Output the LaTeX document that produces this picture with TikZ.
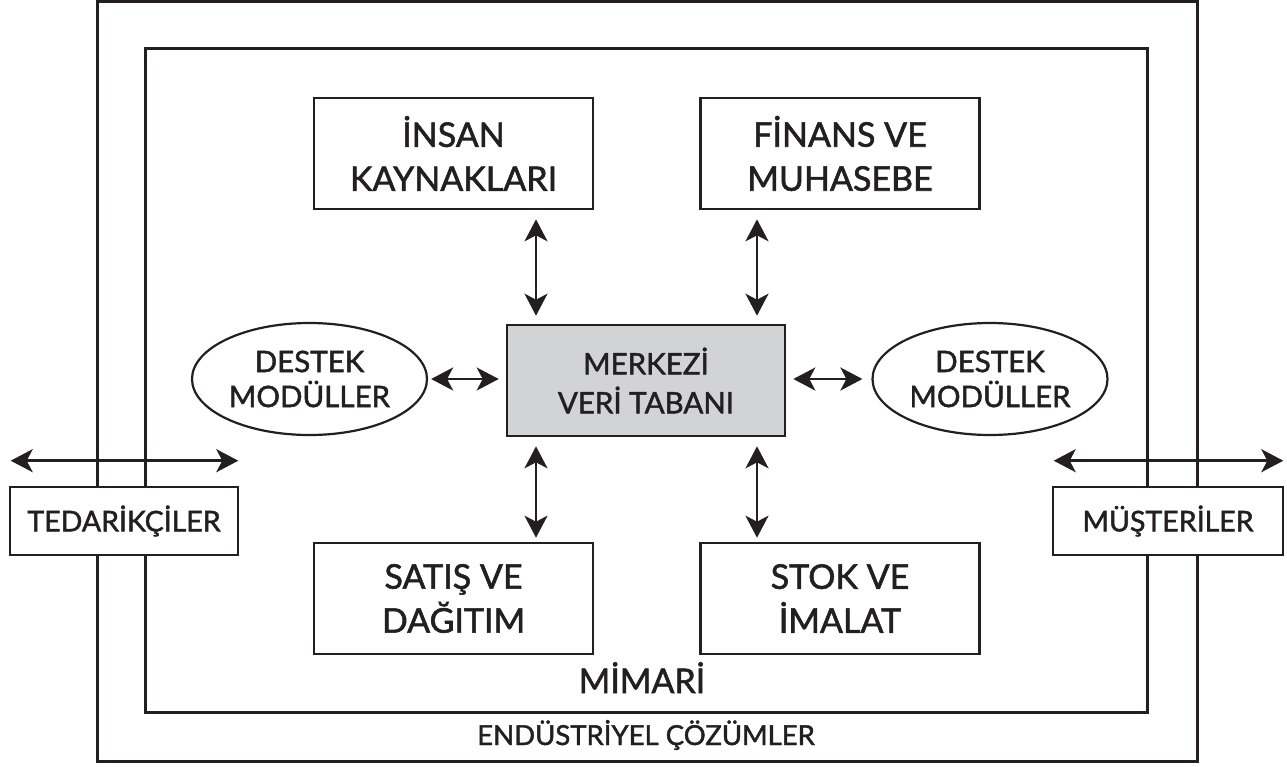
\documentclass[tikz,border=0pt]{standalone}
\usepackage{fontspec}
\setmainfont{Lato}[RawFeature={embolden=1.6}]
\usetikzlibrary{arrows.meta,shapes.geometric}
\definecolor{ink}{HTML}{231F20}
\definecolor{dbfill}{HTML}{D1D3D4}

\begin{document}
\begin{tikzpicture}[x=1pt,y=-1pt,
  frame/.style={draw=ink,line width=3pt},
  modbox/.style={draw=ink,line width=2.6pt,fill=white,inner sep=0pt,
    minimum width=279pt,minimum height=111pt,align=center,text=ink,
    font=\fontsize{34}{44}\selectfont},
  dbbox/.style={draw=ink,line width=2.6pt,fill=dbfill,inner sep=0pt,
    minimum width=278pt,minimum height=111pt,align=center,text=ink,
    font=\fontsize{29.5}{39}\selectfont},
  support/.style={ellipse,draw=ink,line width=2.2pt,fill=white,inner sep=0pt,
    minimum width=235pt,minimum height=112pt,align=center,text=ink,
    font=\fontsize{29.5}{35}\selectfont},
  partner/.style={draw=ink,line width=2.6pt,fill=white,inner sep=0pt,
    minimum height=68pt,align=center,text=ink,
    font=\fontsize{28.5}{34}\selectfont},
  tip/.tip={Stealth[length=22pt,width=23pt,inset=6pt]},
  dbl/.style={draw=ink,line width=2.6pt,tip-tip},
]
\useasboundingbox (0,0) rectangle (1287,766);

% company frame and architecture frame
\draw[frame] (97,1) rectangle (1197,761);
\draw[frame] (145,48) rectangle (1147,712);
\node[anchor=base,text=ink,font=\fontsize{34}{40}\selectfont] (arch) at (642,693) {MİMARİ};
\node[anchor=base,text=ink,font=\fontsize{27.5}{30}\selectfont] (ind) at (646,745) {ENDÜSTRİYEL ÇÖZÜMLER};

% modules
\node[modbox] (ik) at (453.5,153.5) {İNSAN\\KAYNAKLARI};
\node[modbox] (fm) at (840,153.5) {FİNANS VE\\MUHASEBE};
\node[modbox] (sd) at (453.5,598.5) {SATIŞ VE\\DAĞITIM};
\node[modbox] (si) at (840,598.5) {STOK VE\\İMALAT};
\node[dbbox] (mv) at (646,380.5) {MERKEZİ\\VERİ TABANI};
\node[support] (dl) at (309.5,379) {DESTEK\\MODÜLLER};
\node[support] (dr) at (990,379) {DESTEK\\MODÜLLER};

% external partners
\node[partner,minimum width=228pt] (ted) at (124,521) {TEDARİKÇİLER};
\node[partner,minimum width=230pt] (mus) at (1168,521) {MÜŞTERİLER};

% links to the central database
\draw[dbl,shorten <=9pt,shorten >=8pt] ([xshift=82.5pt]ik.south) -- ([xshift=-110pt]mv.north);
\draw[dbl,shorten <=9pt,shorten >=8pt] ([xshift=-83pt]fm.south) -- ([xshift=111pt]mv.north);
\draw[dbl,shorten <=9pt,shorten >=4pt] ([xshift=-110pt]mv.south) -- ([xshift=82.5pt]sd.north);
\draw[dbl,shorten <=9pt,shorten >=4pt] ([xshift=111pt]mv.south) -- ([xshift=-83pt]si.north);
\draw[dbl,shorten <=3pt,shorten >=7pt] (dl.east) -- (dl.east -| mv.west);
\draw[dbl,shorten <=7pt,shorten >=9pt] (dr.west -| mv.east) -- (dr.west);

% flows to suppliers and customers
\coordinate (tedL) at ([xshift=2pt,yshift=25pt]ted.north west);
\coordinate (tedR) at ([xshift=-1pt,yshift=25pt]ted.north east);
\coordinate (musL) at ([xshift=2pt,yshift=25pt]mus.north west);
\coordinate (musR) at ([xshift=-1pt,yshift=25pt]mus.north east);
\draw[dbl] (tedL) -- (tedR);
\draw[dbl] (musL) -- (musR);
\end{tikzpicture}
\end{document}
